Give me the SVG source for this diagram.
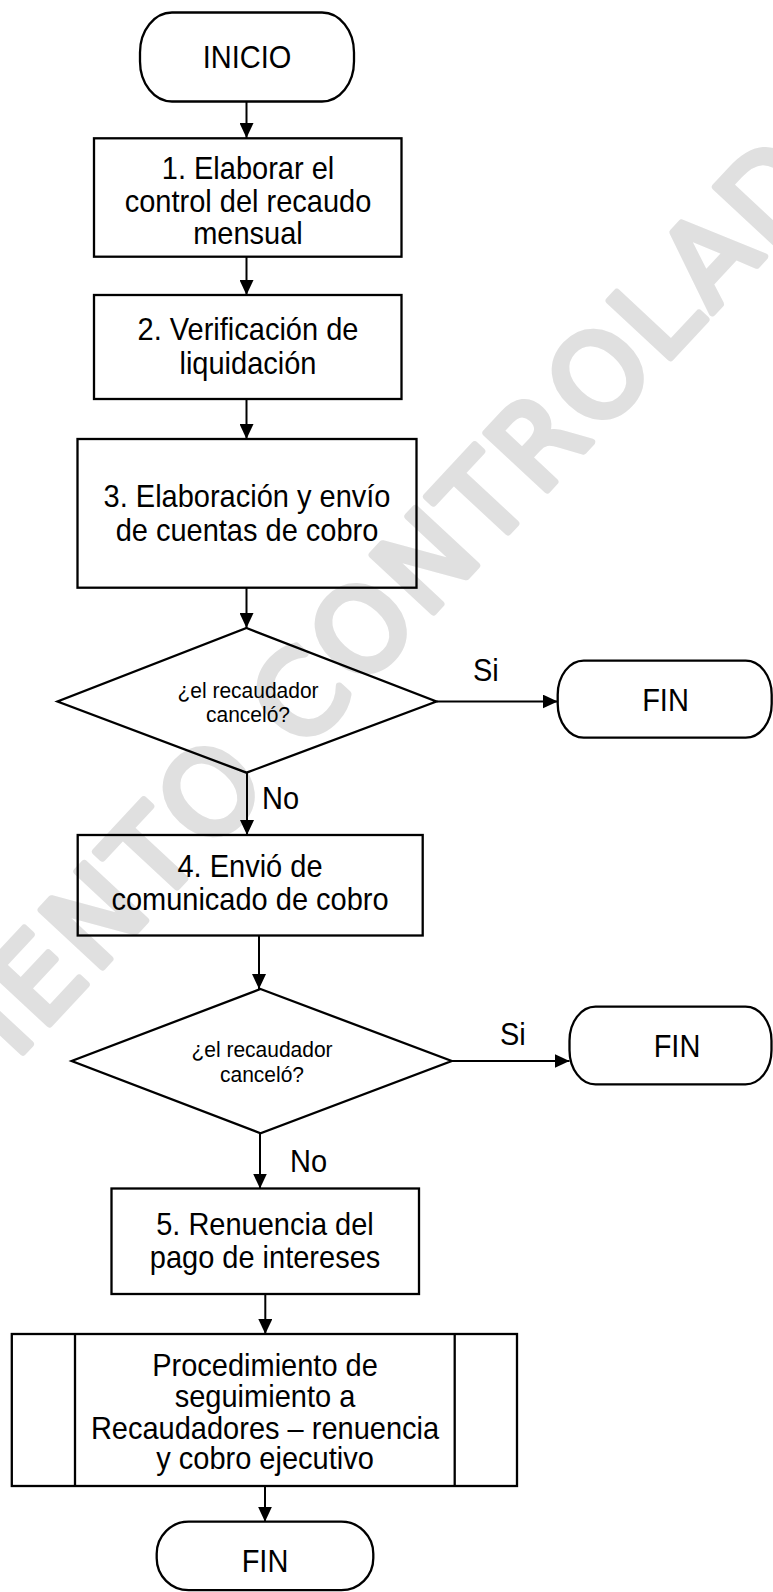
<svg xmlns="http://www.w3.org/2000/svg" width="773" height="1592" viewBox="0 0 773 1592">
<style>
.shape{fill:none;stroke:#000;stroke-width:2.3}
.conn{fill:none;stroke:#000;stroke-width:2}
.t{font-family:"Liberation Sans",Arial,sans-serif;font-size:29px;fill:#000;text-anchor:middle}
.lbl{font-family:"Liberation Sans",Arial,sans-serif;font-size:29px;fill:#000}
.q{font-family:"Liberation Sans",Arial,sans-serif;font-size:21px;fill:#000;text-anchor:middle}
.wm{font-family:"DejaVu Sans",sans-serif;font-size:115px;letter-spacing:5.2px;fill:#e0e0e0;stroke:#e0e0e0;stroke-width:7;stroke-linejoin:round;stroke-linecap:round}
</style>
<defs>
<marker id="arr" markerUnits="userSpaceOnUse" markerWidth="15" markerHeight="14" refX="15" refY="7" orient="auto">
<path d="M0,0 L15,7 L0,14 z" fill="#000"/>
</marker>
</defs>
<rect width="773" height="1592" fill="#fff"/>
<g id="watermark">
<text class="wm" transform="translate(-278,1375) rotate(-47)" x="0" y="0">DOCUMENTO CONTROLADO</text>
</g>
<g id="connectors">
<line class="conn" x1="246.5" y1="101.7" x2="246.5" y2="138" marker-end="url(#arr)"/>
<line class="conn" x1="246.5" y1="256.7" x2="246.5" y2="295" marker-end="url(#arr)"/>
<line class="conn" x1="246.5" y1="399" x2="246.5" y2="439" marker-end="url(#arr)"/>
<line class="conn" x1="246.5" y1="588" x2="246.5" y2="628" marker-end="url(#arr)"/>
<line class="conn" x1="436.4" y1="701.5" x2="557.7" y2="701.5" marker-end="url(#arr)"/>
<line class="conn" x1="247" y1="772.7" x2="247" y2="835" marker-end="url(#arr)"/>
<line class="conn" x1="259" y1="935.5" x2="259" y2="989" marker-end="url(#arr)"/>
<line class="conn" x1="451.7" y1="1061" x2="569.5" y2="1061" marker-end="url(#arr)"/>
<line class="conn" x1="260" y1="1133.3" x2="260" y2="1188.5" marker-end="url(#arr)"/>
<line class="conn" x1="265.3" y1="1294" x2="265.3" y2="1334" marker-end="url(#arr)"/>
<line class="conn" x1="265" y1="1486" x2="265" y2="1521.7" marker-end="url(#arr)"/>
<text class="lbl" transform="translate(473,681) scale(1,1.06)">Si</text>
<text class="lbl" transform="translate(262,809) scale(1,1.06)">No</text>
<text class="lbl" transform="translate(500,1045) scale(1,1.06)">Si</text>
<text class="lbl" transform="translate(290,1171.5) scale(1,1.06)">No</text>
</g>
<g id="inicio">
<rect class="shape" x="140" y="12.5" width="214" height="89" rx="32" ry="40"/>
<text class="t" transform="translate(247,68.3) scale(1,1.06)">INICIO</text>
</g>
<g id="paso1">
<rect class="shape" x="94" y="138.3" width="307.5" height="118.4"/>
<text class="t" transform="translate(248,179) scale(1,1.06)">1. Elaborar el</text>
<text class="t" transform="translate(248,212) scale(1,1.06)">control del recaudo</text>
<text class="t" transform="translate(248,244) scale(1,1.06)">mensual</text>
</g>
<g id="paso2">
<rect class="shape" x="94" y="295" width="307.5" height="104"/>
<text class="t" transform="translate(248,340) scale(1,1.06)">2. Verificación de</text>
<text class="t" transform="translate(248,374) scale(1,1.06)">liquidación</text>
</g>
<g id="paso3">
<rect class="shape" x="77.5" y="439" width="339" height="148.7"/>
<text class="t" transform="translate(247,506.7) scale(1,1.06)">3. Elaboración y envío</text>
<text class="t" transform="translate(247,541) scale(1,1.06)">de cuentas de cobro</text>
</g>
<g id="decision1">
<polygon class="shape" points="246.5,628 436.4,701.5 246.5,772.7 57.5,701.5"/>
<text class="q" transform="translate(248,697.5) scale(1,1.09)">¿el recaudador</text>
<text class="q" transform="translate(248,722.3) scale(1,1.09)">canceló?</text>
</g>
<g id="fin1">
<rect class="shape" x="557.7" y="660.7" width="214" height="77" rx="26" ry="34"/>
<text class="t" transform="translate(665.5,710.7) scale(1,1.06)">FIN</text>
</g>
<g id="paso4">
<rect class="shape" x="77.7" y="835" width="345" height="100.5"/>
<text class="t" transform="translate(250,877) scale(1,1.06)">4. Envió de</text>
<text class="t" transform="translate(250,910) scale(1,1.06)">comunicado de cobro</text>
</g>
<g id="decision2">
<polygon class="shape" points="260.5,989 451.7,1061 260.5,1133.3 71.7,1061"/>
<text class="q" transform="translate(262,1056.7) scale(1,1.09)">¿el recaudador</text>
<text class="q" transform="translate(262,1081.7) scale(1,1.09)">canceló?</text>
</g>
<g id="fin2">
<rect class="shape" x="569.5" y="1006.7" width="202" height="77.6" rx="26" ry="34"/>
<text class="t" transform="translate(677,1056.7) scale(1,1.06)">FIN</text>
</g>
<g id="paso5">
<rect class="shape" x="111.5" y="1188.5" width="307.5" height="105.5"/>
<text class="t" transform="translate(265,1235) scale(1,1.06)">5. Renuencia del</text>
<text class="t" transform="translate(265,1268.3) scale(1,1.06)">pago de intereses</text>
</g>
<g id="subproceso">
<rect class="shape" x="11.8" y="1334" width="505.2" height="152"/>
<line class="shape" x1="75" y1="1334" x2="75" y2="1486"/>
<line class="shape" x1="454.7" y1="1334" x2="454.7" y2="1486"/>
<text class="t" transform="translate(265,1375.8) scale(1,1.06)">Procedimiento de</text>
<text class="t" transform="translate(265,1407) scale(1,1.06)">seguimiento a</text>
<text class="t" transform="translate(265,1439) scale(1,1.06)">Recaudadores – renuencia</text>
<text class="t" transform="translate(265,1468.7) scale(1,1.06)">y cobro ejecutivo</text>
</g>
<g id="fin3">
<rect class="shape" x="156.7" y="1521.7" width="216.6" height="68.5" rx="32" ry="32"/>
<text class="t" transform="translate(265,1571.7) scale(1,1.06)">FIN</text>
</g>
</svg>
